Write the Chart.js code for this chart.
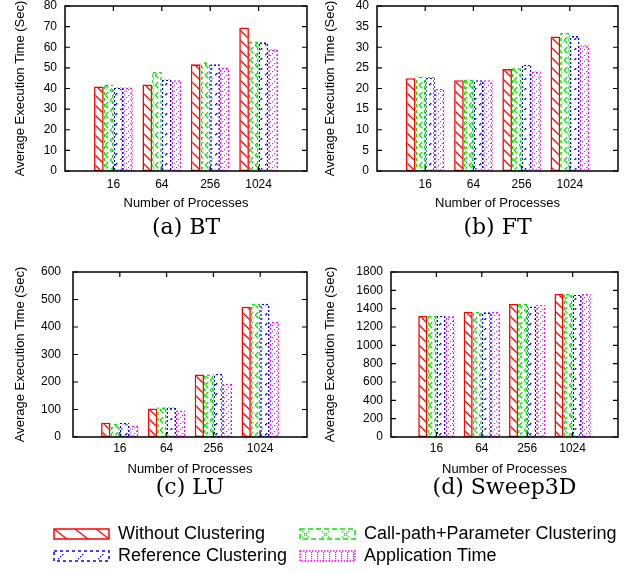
<!DOCTYPE html>
<html><head><meta charset="utf-8">
<script src="https://cdn.jsdelivr.net/npm/chart.js@4.4.1/dist/chart.umd.min.js"></script>
<style>
html,body{margin:0;padding:0;background:#fff;width:628px;height:574px;overflow:hidden;position:relative}
canvas{position:absolute}
</style></head><body>
<canvas id="cA"></canvas><canvas id="cB"></canvas><canvas id="cC"></canvas><canvas id="cD"></canvas>
<canvas id="lg1"></canvas><canvas id="lg2"></canvas>
<script>
// ---------- data ----------
const categories = ['16', '64', '256', '1024'];
const seriesNames = ['Without Clustering', 'Call-path+Parameter Clustering', 'Reference Clustering', 'Application Time'];

const btWithout     = [41.0, 42.0, 51.7, 69.6];
const btCallPath    = [42.0, 48.0, 52.7, 62.8];
const btReference   = [40.5, 44.4, 51.7, 62.4];
const btApplication = [40.5, 44.0, 50.2, 59.0];

const ftWithout     = [22.5, 22.0, 24.7, 32.6];
const ftCallPath    = [22.9, 22.2, 24.9, 33.5];
const ftReference   = [22.7, 22.0, 25.7, 32.7];
const ftApplication = [19.9, 22.0, 24.1, 30.5];

const luWithout     = [52, 104, 227, 474];
const luCallPath    = [48.5, 108, 227, 485];
const luReference   = [51, 107, 230, 485];
const luApplication = [42, 96, 194, 419];

const swWithout     = [1324, 1367, 1451, 1560];
const swCallPath    = [1324, 1367, 1451, 1560];
const swReference   = [1324, 1360, 1425, 1553];
const swApplication = [1316, 1367, 1444, 1560];

const panelTitles = ['(a) BT', '(b) FT', '(c) LU', '(d) Sweep3D'];
const yMaxes = [80, 40, 600, 1800];
const ySteps = [10, 5, 100, 200];
const xAxisTitle = 'Number of Processes';
const yAxisTitle = 'Average Execution Time (Sec)';

// ---------- styles ----------
Chart.defaults.font.family = "'Liberation Sans', Arial, sans-serif";
Chart.defaults.color = '#000';

const RED = '#ff0000', GREEN = '#00e600', BLUE = '#0000ff', MAG = '#ff00ff';

function tile(w, h, draw) {
  const c = document.createElement('canvas');
  c.width = w; c.height = h;
  const g = c.getContext('2d');
  draw(g, w, h);
  return c;
}
function pat(w, h, draw) {
  return document.createElement('canvas').getContext('2d').createPattern(tile(w, h, draw), 'repeat');
}
const redFill = pat(10, 10, (g, s) => {
  g.fillStyle = '#fff'; g.fillRect(0, 0, s, s);
  g.strokeStyle = RED; g.lineWidth = 1.3;
  g.beginPath();
  g.moveTo(-1, -1); g.lineTo(s + 1, s + 1);
  g.moveTo(-1, s - 1); g.lineTo(1, s + 1);
  g.moveTo(s - 1, -1); g.lineTo(s + 1, 1);
  g.stroke();
});
const greenFill = pat(10, 10, (g, s) => {
  g.fillStyle = '#fff'; g.fillRect(0, 0, s, s);
  g.fillStyle = GREEN;
  for (let i = 0; i < s; i++) {
    if (i % 5 < 3) { g.fillRect(i, i, 1.4, 1.4); g.fillRect(i, s - 1 - i, 1.4, 1.4); }
  }
});
const blueFill = pat(10, 10, (g, s) => {
  g.fillStyle = '#fff'; g.fillRect(0, 0, s, s);
  g.fillStyle = BLUE;
  for (let i = 0; i < s; i++) if (i % 5 < 2) g.fillRect(i, s - 1 - i, 1.4, 1.4);
});
const magFill = pat(6, 6, (g, s) => {
  g.fillStyle = '#fff'; g.fillRect(0, 0, s, s);
  g.fillStyle = MAG;
  for (let i = 0; i < s; i++) if (i % 2 === 0) g.fillRect(i, s - 1 - i, 1.2, 1.2);
});
function checker(d, col) {
  return pat(2 * d, 2 * d, (g) => { g.fillStyle = col; g.fillRect(0, 0, d, d); g.fillRect(d, d, d, d); });
}
const fills = [redFill, greenFill, blueFill, magFill];
const borders = [RED, checker(3, GREEN), checker(2, BLUE), checker(2, MAG)];
const lineColors = [RED, GREEN, BLUE, MAG];
const legendDash = [[], [5, 3], [3, 3], [1.5, 1.5]];

// legend swatch fills (sparser, as gnuplot draws them in the key); band y 8..18 repeating every 22px
const legendFills = [
  pat(21, 22, (g, w) => {
    g.strokeStyle = RED; g.lineWidth = 1.2;
    g.beginPath(); g.moveTo(4, 8); g.lineTo(17, 18); g.stroke();
  }),
  pat(20, 22, (g, w) => {
    g.fillStyle = GREEN;
    for (let i = 0; i <= 6; i += 2) { g.fillRect(6 + i, 10 + i * 0.9, 1.3, 1.3); g.fillRect(12 - i, 10 + i * 0.9, 1.3, 1.3); }
  }),
  pat(20, 22, (g, w) => {
    g.fillStyle = BLUE;
    g.fillRect(8, 15, 1.3, 1.3); g.fillRect(10, 13, 1.3, 1.3); g.fillRect(12, 11, 1.3, 1.3);
  }),
  pat(6, 22, (g, w) => {
    g.fillStyle = MAG;
    for (let y = 9; y < 18; y += 2) g.fillRect((y * 3) % 6, y, 1.2, 1.2);
  })
];

// ---------- frame plugin (gnuplot-style box with inward tics) ----------
const framePlugin = {
  id: 'frame',
  beforeDatasetsDraw(chart) {
    const {ctx, chartArea: a, scales: {x, y}} = chart;
    ctx.save();
    ctx.strokeStyle = '#000'; ctx.lineWidth = 1.2;
    ctx.beginPath();
    y.ticks.forEach(t => {
      const py = y.getPixelForValue(t.value);
      ctx.moveTo(a.left, py); ctx.lineTo(a.left + 5, py);
      ctx.moveTo(a.right, py); ctx.lineTo(a.right - 5, py);
    });
    categories.forEach((c, i) => {
      const px = x.getPixelForValue(i + 1);
      ctx.moveTo(px, a.top); ctx.lineTo(px, a.top + 5);
      ctx.moveTo(px, a.bottom); ctx.lineTo(px, a.bottom - 5);
    });
    ctx.stroke();
    ctx.restore();
  },
  afterDatasetsDraw(chart) {
    const {ctx, chartArea: a} = chart;
    ctx.save();
    ctx.strokeStyle = '#000'; ctx.lineWidth = 1.5;
    ctx.strokeRect(a.left, a.top, a.right - a.left, a.bottom - a.top);
    ctx.restore();
  }
};

// ---------- panels ----------
const panels = [
  {id: 'cA', cx: 0,   cy: -10, cw: 314, plotL: 65,  plotR: 307, plotT: 6,   plotB: 171, yTickGap: 8,  yTitleX: 20,  tickY: 185, xTitleY: 203, titleY: 228},
  {id: 'cB', cx: 314, cy: -10, cw: 314, plotL: 377, plotR: 618, plotT: 6,   plotB: 171, yTickGap: 8,  yTitleX: 330, tickY: 185, xTitleY: 203, titleY: 228},
  {id: 'cC', cx: 0,   cy: 250, cw: 314, plotL: 73,  plotR: 307, plotT: 272, plotB: 437, yTickGap: 12, yTitleX: 20,  tickY: 449, xTitleY: 469, titleY: 488},
  {id: 'cD', cx: 314, cy: 250, cw: 314, plotL: 391, plotR: 618, plotT: 272, plotB: 437, yTickGap: 8,  yTitleX: 330, tickY: 449, xTitleY: 469, titleY: 488}
];
const panelSeries = [
  [btWithout, btCallPath, btReference, btApplication],
  [ftWithout, ftCallPath, ftReference, ftApplication],
  [luWithout, luCallPath, luReference, luApplication],
  [swWithout, swCallPath, swReference, swApplication]
];

panels.forEach((p, k) => {
  const cv = document.getElementById(p.id);
  const ch = Math.round(p.titleY - p.cy + 15.2);
  const tb = ch - (p.titleY - p.cy) - 13.2;
  cv.width = p.cw; cv.height = ch;
  cv.style.left = p.cx + 'px'; cv.style.top = p.cy + 'px';
  const labels = ['', ...categories, ''];
  const datasets = panelSeries[k].map((vals, i) => ({
    label: seriesNames[i],
    data: [null, ...vals, null],
    backgroundColor: fills[i],
    borderColor: borders[i],
    borderWidth: 1.6,
    borderSkipped: false,
    categoryPercentage: 0.8,
    barPercentage: 1.0
  }));
  new Chart(cv, {
    type: 'bar',
    data: {labels, datasets},
    options: {
      responsive: false, animation: false, devicePixelRatio: 1, events: [],
      layout: {padding: {left: 0, top: p.plotT - p.cy, right: p.cx + p.cw - p.plotR, bottom: 0}},
      plugins: {
        legend: {display: false}, tooltip: {enabled: false},
        title: {display: true, position: 'bottom', fullSize: false, text: panelTitles[k], color: '#000',
          font: {family: "'DejaVu Serif', serif", size: 22, lineHeight: 1.2, weight: 'normal'},
          padding: {top: 0, bottom: tb}}
      },
      scales: {
        x: {
          offset: false,
          grid: {display: false, drawTicks: false}, border: {display: false},
          ticks: {autoSkip: false, maxRotation: 0, minRotation: 0, padding: p.tickY - p.plotB - 7.2, font: {size: 12}, color: '#000'},
          title: {display: true, text: xAxisTitle, font: {size: 13}, color: '#000',
            padding: {top: 0, bottom: p.titleY - 13.2 - 7.8 - p.xTitleY}},
          afterFit: s => { s.height = p.titleY - 13.2 - p.plotB; }
        },
        y: {
          min: 0, max: yMaxes[k],
          grid: {display: false, drawTicks: false}, border: {display: false},
          ticks: {stepSize: ySteps[k], padding: p.yTickGap, font: {size: 12}, color: '#000',
            callback: v => String(v)},
          title: {display: true, text: yAxisTitle, font: {size: 13}, color: '#000',
            padding: {top: p.yTitleX - p.cx - 7.8, bottom: 0}},
          afterFit: s => { s.width = p.plotL - p.cx; }
        }
      }
    },
    plugins: [framePlugin]
  });
});

// ---------- legend (two columns, each a Chart.js legend) ----------
const legendCols = [
  {id: 'lg1', x: 50, y: 521, w: 244, h: 140, items: [0, 2]},
  {id: 'lg2', x: 296, y: 521, w: 332, h: 140, items: [1, 3]}
];
legendCols.forEach(L => {
  const cv = document.getElementById(L.id);
  cv.width = L.w; cv.height = L.h;
  cv.style.left = L.x + 'px'; cv.style.top = L.y + 'px';
  new Chart(cv, {
    type: 'bar',
    data: {labels: [], datasets: L.items.map(i => ({label: seriesNames[i], data: [], backgroundColor: fills[i], borderColor: lineColors[i]}))},
    options: {
      responsive: false, animation: false, devicePixelRatio: 1, events: [],
      layout: {padding: 0},
      scales: {x: {display: false}, y: {display: false}},
      plugins: {
        tooltip: {enabled: false},
        legend: {
          display: true, position: 'top', align: 'start',
          labels: {
            boxWidth: 55, boxHeight: 10, padding: 4, color: '#000',
            font: {size: 18},
            generateLabels: chart => L.items.map((i, j) => ({
              text: seriesNames[i], fillStyle: legendFills[i], strokeStyle: lineColors[i],
              lineWidth: 1.5, lineDash: legendDash[i], hidden: false, datasetIndex: j, fontColor: '#000'
            }))
          }
        }
      }
    }
  });
});
</script>
</body></html>
